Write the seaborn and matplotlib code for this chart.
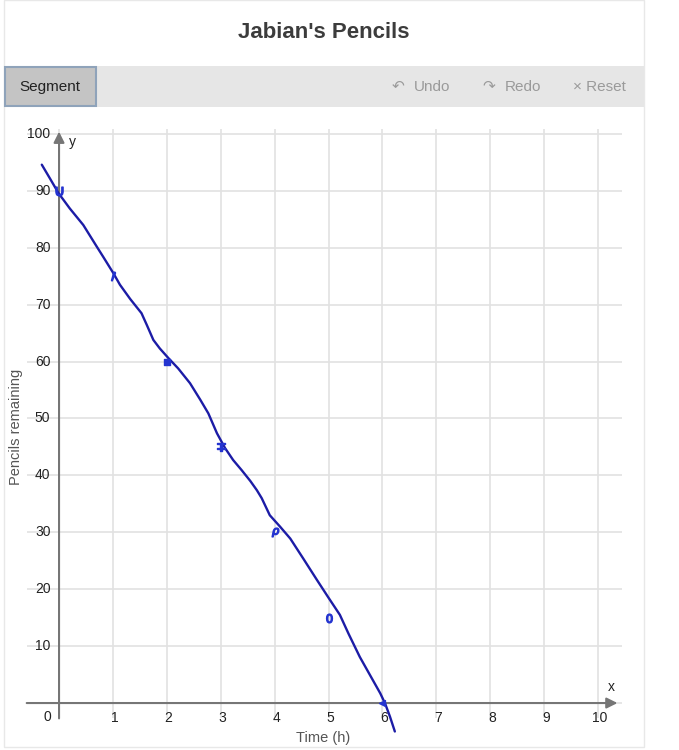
import matplotlib
matplotlib.use("Agg")
import matplotlib.pyplot as plt
from matplotlib.patches import Rectangle
import seaborn as sns
import pandas as pd

# ---- data ----
title = "Jabian's Pencils"
x_label = "Time (h)"
y_label = "Pencils remaining"
x_ticks = [1, 2, 3, 4, 5, 6, 7, 8, 9, 10]
y_ticks = [10, 20, 30, 40, 50, 60, 70, 80, 90, 100]

# hand-drawn marks at the table values
mark_x = [0, 1, 2, 3, 4, 5, 6]
mark_y = [90, 75, 60, 45, 30, 15, 0]
mark_glyphs = ['$\\cup$', '$\\prime$', 's', '$\\mp$', '$\\rho$', '$0$', '<']

# hand-drawn line through the points
curve_x = [-0.32, -0.17, -0.01, 0.20, 0.45, 0.70, 0.82, 1.01, 1.13, 1.32, 1.53, 1.63,
           1.75, 1.87, 2.03, 2.21, 2.43, 2.62, 2.77, 2.93, 3.08, 3.23, 3.39, 3.55,
           3.67, 3.76, 3.91, 4.10, 4.29, 4.53, 4.78, 5.00, 5.21, 5.37, 5.58, 5.77,
           5.96, 6.05, 6.14, 6.23]
curve_y = [94.6, 92.2, 89.6, 86.9, 84.0, 80.2, 78.4, 75.5, 73.5, 71.0, 68.5, 66.4,
           63.8, 62.3, 60.6, 58.8, 56.2, 53.3, 50.9, 47.4, 44.8, 42.7, 40.9, 39.0,
           37.4, 36.0, 33.0, 31.0, 28.9, 25.4, 21.7, 18.5, 15.5, 12.2, 8.1, 4.9,
           1.7, -0.1, -2.4, -5.0]

sns.set_theme(style="whitegrid")
plt.rcParams['font.family'] = ['Liberation Sans', 'DejaVu Sans']

W, H = 679, 750
fig = plt.figure(figsize=(W / 100, H / 100), dpi=100)
fig.patch.set_facecolor('white')

def fx(px):
    return px / W

def fy(py):
    return 1 - py / H

# outer panel border
fig.patches.append(Rectangle((fx(4), fy(747)), fx(644) - fx(4), fy(0) - fy(747),
                             transform=fig.transFigure, facecolor='none',
                             edgecolor='#e8e8e8', lw=1, zorder=-1))
# toolbar
fig.patches.append(Rectangle((fx(4), fy(107)), fx(644) - fx(4), fy(66) - fy(107),
                             transform=fig.transFigure, facecolor='#e6e6e6',
                             edgecolor='none', zorder=1))
fig.patches.append(Rectangle((fx(5), fy(106)), fx(96) - fx(5), fy(67) - fy(106),
                             transform=fig.transFigure, facecolor='#c4c4c4',
                             edgecolor='#8fa3ba', lw=1.5, zorder=2))
fig.text(fx(50), fy(87), 'Segment', ha='center', va='center', fontsize=11, color='#222222', zorder=3)
tb_col = '#9a9a9a'
fig.text(fx(398), fy(86), '\u21b6', ha='center', va='center', fontsize=11, color=tb_col,
         family=['DejaVu Sans'])
fig.text(fx(414), fy(87), 'Undo', ha='left', va='center', fontsize=11, color=tb_col)
fig.text(fx(489), fy(86), '\u21b7', ha='center', va='center', fontsize=11, color=tb_col,
         family=['DejaVu Sans'])
fig.text(fx(505), fy(87), 'Redo', ha='left', va='center', fontsize=11, color=tb_col)
fig.text(fx(573), fy(87), '\u00d7 Reset', ha='left', va='center', fontsize=11, color=tb_col)

# title
fig.text(fx(324), fy(33), title, ha='center', va='center', fontsize=16,
         fontweight='bold', color='#3c3c3c')

# plot axes
ax = fig.add_axes([fx(26.7), fy(718.4), fx(622.3) - fx(26.7), fy(129.4) - fy(718.4)])
ax.set_zorder(5)
ax.set_xlim(-0.6, 10.45)
ax.set_ylim(-2.7, 100.8)
ax.patch.set_alpha(0)
ax.set_xticks([0] + x_ticks)
ax.set_yticks([0] + y_ticks)
ax.grid(True, color='#e2e2e2', lw=1.2)
ax.tick_params(length=0, labelbottom=False, labelleft=False)
for s in ax.spines.values():
    s.set_visible(False)

axis_col = '#767676'
ax.annotate('', xy=(10.36, 0), xytext=(-0.6, 0),
            arrowprops=dict(arrowstyle='-|>', color=axis_col, lw=1.5, mutation_scale=16,
                            shrinkA=0, shrinkB=0), annotation_clip=False)
ax.annotate('', xy=(0, 100.4), xytext=(0, -2.7),
            arrowprops=dict(arrowstyle='-|>', color=axis_col, lw=1.5, mutation_scale=16,
                            shrinkA=0, shrinkB=0), annotation_clip=False)

lab_col = '#222222'
for v in x_ticks:
    ax.text(v + 0.03, -2.6, str(v), ha='center', va='center', fontsize=10,
            color=lab_col, clip_on=False)
for v in y_ticks:
    ax.text(-0.16, v, str(v), ha='right', va='center', fontsize=10,
            color=lab_col, clip_on=False)
ax.text(-0.22, -2.4, '0', ha='center', va='center', fontsize=10, color=lab_col, clip_on=False)
ax.text(10.25, 2.8, 'x', ha='center', va='center', fontsize=10, color=lab_col)
ax.text(0.24, 98.6, 'y', ha='center', va='center', fontsize=10, color=lab_col)

# hand-drawn line
curve = pd.DataFrame({'x': curve_x, 'y': curve_y})
sns.lineplot(data=curve, x='x', y='y', sort=False, estimator=None, color='#1c1ca6',
             lw=1.7, ax=ax, zorder=5, clip_on=False, solid_joinstyle='round',
             solid_capstyle='round')

# hand-drawn marks
for mx, my, g in zip(mark_x, mark_y, mark_glyphs):
    sz = 40 if g.startswith('$') else 18
    sns.scatterplot(x=[mx], y=[my], marker=g, s=sz, color='#2434d0',
                    edgecolor='#2434d0', linewidth=1, ax=ax, zorder=6, legend=False)

ax.set_xlabel('')
ax.set_ylabel('')
fig.text(fx(323), fy(738), x_label, ha='center', va='center', fontsize=10.5, color='#555555')
fig.text(fx(16), fy(427), y_label, ha='center', va='center', rotation=90,
         fontsize=10.5, color='#555555')
fig.savefig('out.png', dpi=100, facecolor='white')
